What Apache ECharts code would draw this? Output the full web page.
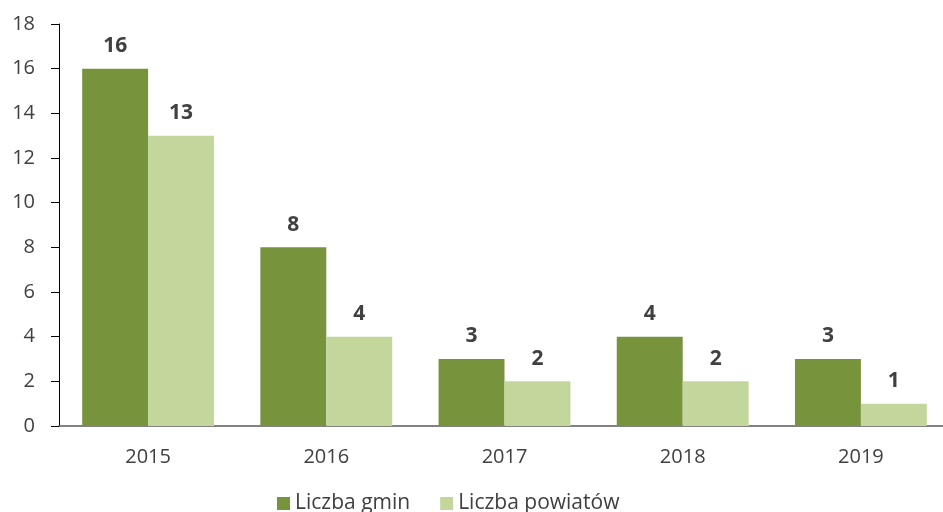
<!DOCTYPE html>
<html>
<head>
<meta charset="utf-8">
<script src="https://cdn.jsdelivr.net/npm/echarts@6/dist/echarts.min.js"></script>
<style>
  html, body { margin: 0; padding: 0; background: #fff; }
  #chart { width: 943px; height: 512px; }
</style>
</head>
<body>
<div id="chart"></div>
<script>
const years = ['2015', '2016', '2017', '2018', '2019'];
const gminy = [16, 8, 3, 4, 3];
const powiaty = [13, 4, 2, 2, 1];
const seriesNames = ['Liczba gmin', 'Liczba powiatów'];

const chart = echarts.init(document.getElementById('chart'));
const font = 'Open Sans';
const labelStyle = {
  show: true,
  position: 'top',
  distance: 12,
  fontFamily: font,
  fontSize: 21,
  fontWeight: 'bold',
  color: '#404040'
};

chart.setOption({
  animation: false,
  textStyle: { fontFamily: font },
  grid: { left: 59, width: 891, top: 24, height: 402, outerBoundsMode: 'none' },
  legend: {
    bottom: -7,
    left: 272,
    itemWidth: 13,
    itemHeight: 13,
    itemGap: 30,
    icon: 'rect',
    textStyle: { fontFamily: font, fontSize: 21, color: '#404040' },
    data: seriesNames
  },
  xAxis: {
    type: 'category',
    data: years,
    axisLine: { lineStyle: { color: '#595959', width: 1.5 } },
    axisTick: { show: false },
    axisLabel: { fontFamily: font, fontSize: 20, color: '#404040', margin: 21 }
  },
  yAxis: {
    type: 'value',
    min: 0,
    max: 18,
    interval: 2,
    axisLine: { show: true, lineStyle: { color: '#000', width: 1 } },
    axisTick: { show: true, length: 8, lineStyle: { color: '#000' } },
    splitLine: { show: false },
    axisLabel: { fontFamily: font, fontSize: 20, color: '#404040', margin: 24 }
  },
  series: [
    {
      name: seriesNames[0],
      type: 'bar',
      data: gminy,
      barGap: '0%',
      barCategoryGap: '26%',
      itemStyle: { color: '#77933C' },
      label: labelStyle
    },
    {
      name: seriesNames[1],
      type: 'bar',
      data: powiaty,
      itemStyle: { color: '#C3D69B' },
      label: labelStyle
    }
  ]
});
</script>
</body>
</html>
